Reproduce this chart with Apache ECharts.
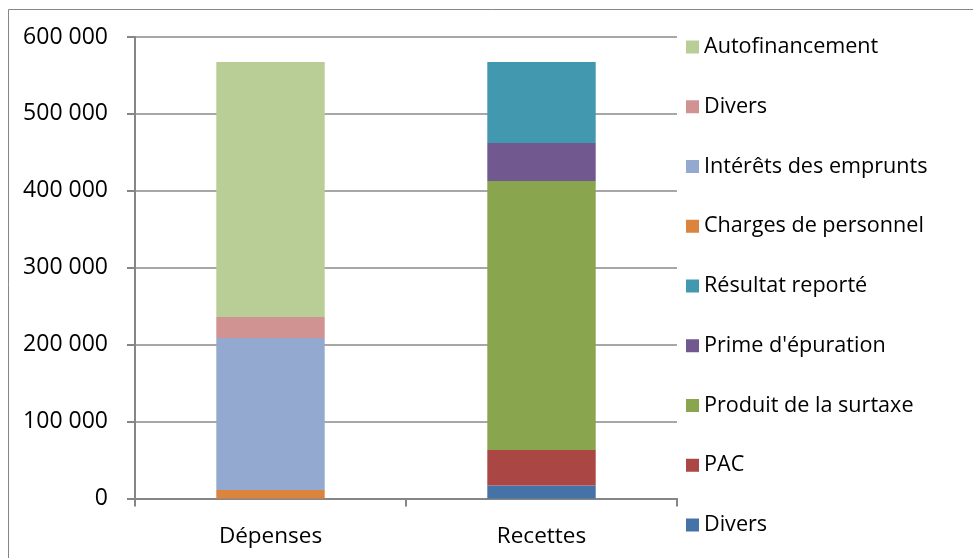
<!DOCTYPE html>
<html>
<head>
<meta charset="utf-8">
<script src="https://cdn.jsdelivr.net/npm/echarts@6/dist/echarts.min.js"></script>
<style>
html,body{margin:0;padding:0;background:#fff;}
#chart{width:973px;height:558px;}
</style>
</head>
<body>
<div id="chart"></div>
<script>
const categories = ['Dépenses', 'Recettes'];

// Dépenses stack, bottom to top
const depensesNames = ['Charges de personnel', 'Intérêts des emprunts', 'Divers', 'Autofinancement'];
const depensesValues = [11000, 197600, 27400, 331500];
const depensesColors = ['#DB843D', '#93A9CF', '#D19392', '#B9CD96'];

// Recettes stack, bottom to top
const recettesNames = ['Divers', 'PAC', 'Produit de la surtaxe', "Prime d'épuration", 'Résultat reporté'];
const recettesValues = [17000, 46000, 349700, 49400, 105300];
const recettesColors = ['#4572A7', '#AA4643', '#89A54E', '#71588F', '#4198AF'];

const yTicks = [0, 100000, 200000, 300000, 400000, 500000, 600000];

const FONT = '"Open Sans", sans-serif';
const fmt = v => String(v).replace(/\B(?=(\d{3})+(?!\d))/g, ' ');

const series = [];
recettesNames.forEach((n, i) => {
  series.push({
    name: 'R|' + n, type: 'bar', stack: 'total', barWidth: '40%',
    itemStyle: { color: recettesColors[i] },
    data: [null, recettesValues[i]]
  });
});
depensesNames.forEach((n, i) => {
  series.push({
    name: 'D|' + n, type: 'bar', stack: 'total', barWidth: '40%',
    itemStyle: { color: depensesColors[i] },
    data: [depensesValues[i], null]
  });
});
const legendData = series.map(s => s.name).reverse();

const chart = echarts.init(document.getElementById('chart'));
chart.setOption({
  animation: false,
  backgroundColor: '#fff',
  graphic: [{
    type: 'rect', left: 6, top: 7, silent: true,
    shape: { width: 980, height: 560 },
    style: { fill: 'none', stroke: '#868686', lineWidth: 1 }
  }],
  grid: { left: 135, right: 296, top: 37, bottom: 59.5, containLabel: false },
  legend: {
    orient: 'vertical', left: 681, top: 30, padding: 5,
    data: legendData, icon: 'rect', itemWidth: 13, itemHeight: 13, itemGap: 35.75,
    selectedMode: false,
    formatter: n => n.split('|')[1],
    textStyle: { fontFamily: FONT, fontSize: 21.6, color: '#000', lineHeight: 24 }
  },
  xAxis: {
    type: 'category', data: categories,
    axisLine: { lineStyle: { color: '#868686', width: 2 } },
    axisTick: { show: true, length: 8, alignWithLabel: false, lineStyle: { color: '#868686', width: 2 } },
    axisLabel: { fontFamily: FONT, fontSize: 22.5, color: '#000', margin: 27 }
  },
  yAxis: {
    type: 'value', min: yTicks[0], max: yTicks[yTicks.length - 1], interval: 100000,
    axisLine: { show: true, lineStyle: { color: '#868686', width: 2 } },
    axisTick: { show: true, length: 8, lineStyle: { color: '#868686', width: 2 } },
    splitLine: { lineStyle: { color: '#8a8a8a', width: 1.5 } },
    axisLabel: { fontFamily: FONT, fontSize: 23, color: '#000', margin: 27, formatter: fmt }
  },
  series: series
});
</script>
</body>
</html>
